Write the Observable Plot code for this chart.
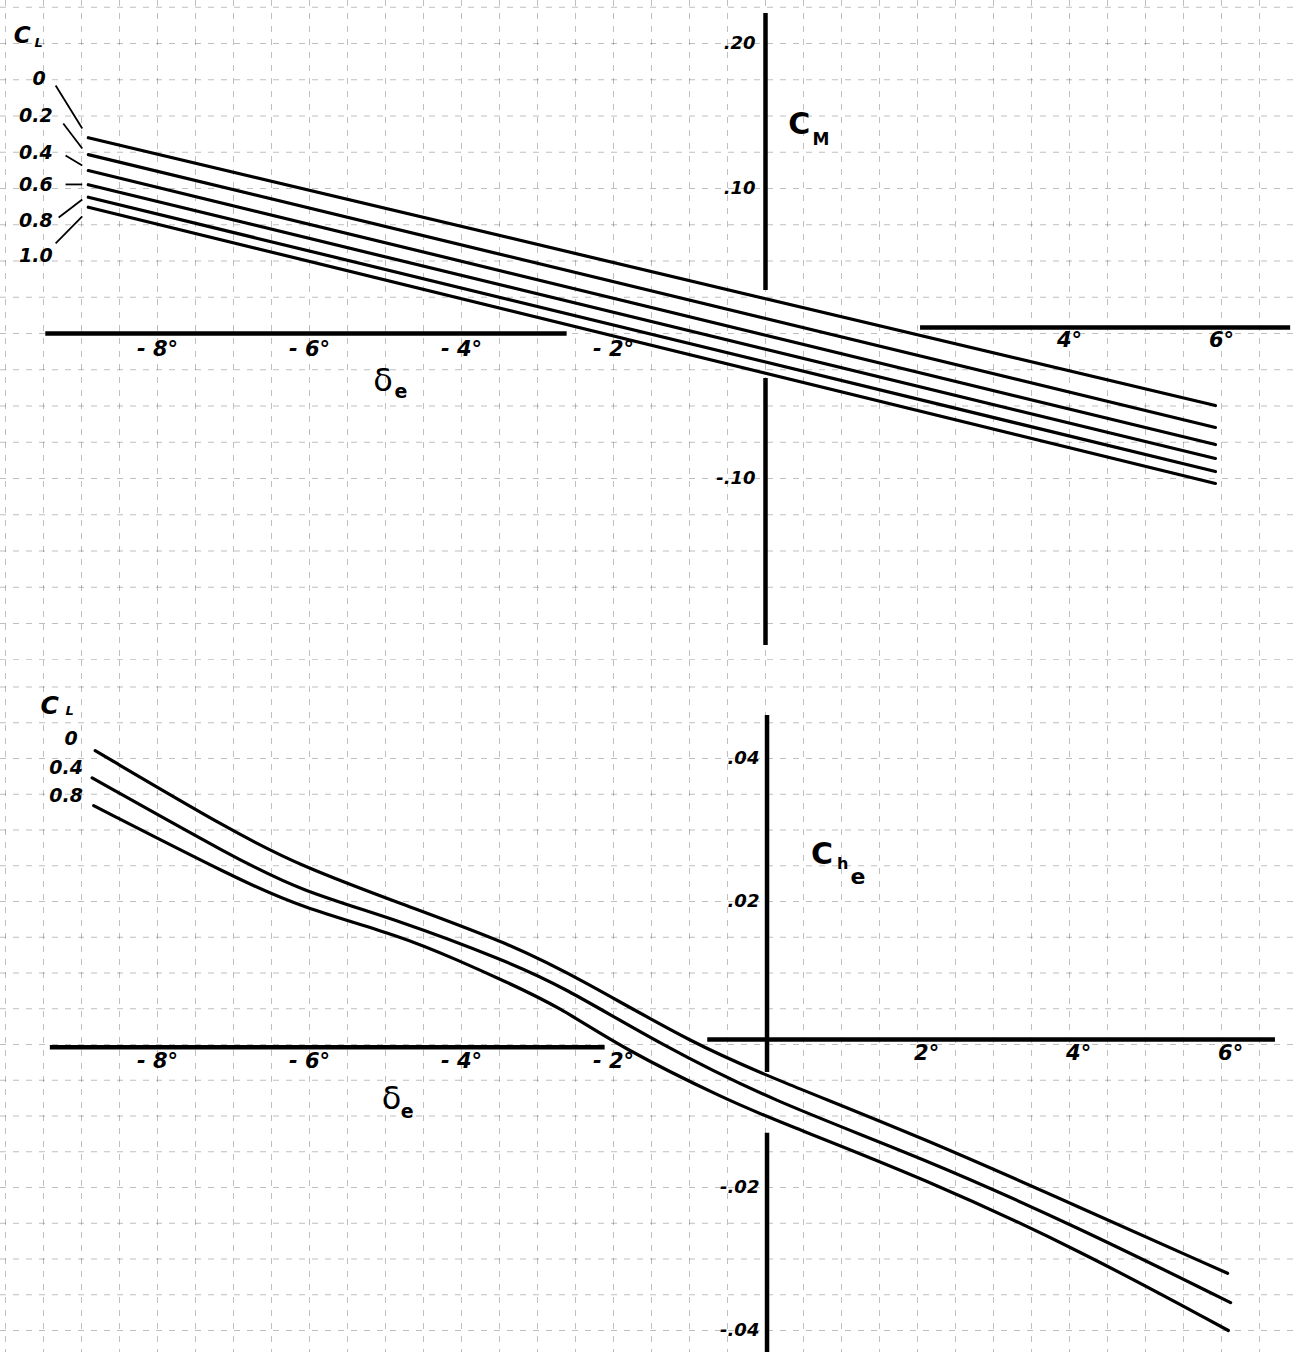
<!DOCTYPE html>
<html><head><meta charset="utf-8">
<script src="https://cdn.jsdelivr.net/npm/d3@7"></script>
<script src="https://cdn.jsdelivr.net/npm/@observablehq/plot@0.6"></script>
<style>
body{margin:0;background:#fff;}
#chart{width:1295px;height:1352px;position:relative;background:#fff;overflow:hidden}
#chart svg{display:block;background:#fff}
</style></head><body><div id="chart"></div>
<script>
// ---------- DATA ----------
// Upper panel: pitching-moment coefficient Cm vs elevator deflection (deg)
const topCL = [0, 0.2, 0.4, 0.6, 0.8, 1.0];
const topDelta = [-8.91, 5.92];
const topCmStart = [0.135, 0.1234, 0.1124, 0.1026, 0.094, 0.0871];
const topCmEnd = [-0.0497, -0.0648, -0.0766, -0.0862, -0.0952, -0.1034];

// Lower panel: hinge-moment coefficient Che vs elevator deflection (deg)
const botCL = [0, 0.4, 0.8];
const cheDelta0  = [-8.82, -7.0, -6.12, -4.80, -3.36, -2.41, -0.95, 0.11, 2.08, 4.14, 6.08];
const cheValue0  = [0.0411, 0.0297, 0.0250, 0.0197, 0.0141, 0.0090, 0.0001, -0.0048, -0.0131, -0.0228, -0.0320];
const cheDelta04 = [-8.86, -7.0, -6.12, -4.80, -3.42, -2.70, -1.38, 0.07, 2.08, 4.14, 6.12];
const cheValue04 = [0.0373, 0.0262, 0.0215, 0.0173, 0.0117, 0.0083, 0.0000, -0.0078, -0.0159, -0.0257, -0.0361];
const cheDelta08 = [-8.84, -7.0, -6.12, -4.80, -4.03, -3.46, -2.70, -1.91, -0.50, 0.20, 2.08, 4.14, 6.09];
const cheValue08 = [0.0334, 0.0234, 0.0192, 0.0152, 0.0117, 0.0090, 0.0052, -0.0004, -0.0078, -0.0109, -0.0187, -0.0288, -0.0400];

// Tick labels
const topXTicksLeft = [-8, -6, -4, -2];
const topXTicksRight = [4, 6];
const botXTicksLeft = [-8, -6, -4, -2];
const botXTicksRight = [2, 4, 6];
const topYTicks = [0.20, 0.10, -0.10];
const topYLabels = [".20", ".10", "-.10"];
const botYTicks = [0.04, 0.02, -0.02, -0.04];
const botYLabels = [".04", ".02", "-.02", "-.04"];
const topCLLabels = ["0", "0.2", "0.4", "0.6", "0.8", "1.0"];
const botCLLabels = ["0", "0.4", "0.8"];

// ---------- LAYOUT / STYLE ----------
const W = 1295;
const xDom = [-765 / 76, 530 / 76];
const topH = 660, botH = 692;
const topYDom = [-(topH - 333) / 1450, 333 / 1450];
const botYDom = [-(botH - 384) / 7150, 384 / 7150];
const font = "DejaVu Sans, Liberation Sans, sans-serif";
const ink = "#000";
const deg = d => d < 0 ? `- ${-d}°` : `${d}°`;
const num = {fontFamily: font, fontWeight: "bold", fontStyle: "italic", fill: ink};
const upright = {fontFamily: font, fontWeight: "bold", fill: ink, textAnchor: "start"};

// legend placement (in data units)
const topLegendY = [0.1759, 0.1503, 0.1248, 0.1028, 0.0779, 0.0538];
const topLegendX = [-9.47, -9.38, -9.38, -9.38, -9.38, -9.38];
const topLeader = [
  [-9.34, 0.1710, -8.99, 0.1414],
  [-9.24, 0.1448, -8.99, 0.1276],
  [-9.21, 0.1228, -8.99, 0.1159],
  [-9.21, 0.1028, -8.99, 0.1028],
  [-9.30, 0.0800, -8.99, 0.0924],
  [-9.34, 0.0621, -8.99, 0.0807]
];
const botLegendY = [0.0427, 0.0387, 0.0348];
const botLegendX = [-9.05, -8.98, -8.98];

const gridX = d3.range(-20, 15).map(i => i * 0.5);
const gridTop = d3.range(-9, 10).map(i => i * 0.025);
const gridBot = d3.range(-9, 12).map(i => i * 0.005);
const gridStyle = {stroke: "#000", strokeOpacity: 0.25, strokeWidth: 1, strokeDasharray: "6,7"};

// ---------- UPPER PANEL ----------
const topRows = topCL.flatMap((cl, i) => [
  {cl, d: topDelta[0], cm: topCmStart[i]},
  {cl, d: topDelta[1], cm: topCmEnd[i]}
]);

const upperPlot = Plot.plot({
  width: W, height: topH, margin: 0,
  x: {domain: xDom, axis: null},
  y: {domain: topYDom, axis: null},
  marks: [
    Plot.ruleX(gridX, gridStyle),
    Plot.ruleY(gridTop, gridStyle),
    // axes
    Plot.ruleY([0], {x1: -9.47, x2: -2.61, stroke: ink, strokeWidth: 4.5}),
    Plot.ruleY([0.0041], {x1: 2.04, x2: 6.91, stroke: ink, strokeWidth: 4.5}),
    Plot.ruleX([0], {y1: 0.2207, y2: 0.0297, stroke: ink, strokeWidth: 4.5}),
    Plot.ruleX([0], {y1: -0.031, y2: -0.2152, stroke: ink, strokeWidth: 4.5}),
    // curves
    Plot.line(topRows, {x: "d", y: "cm", z: "cl", stroke: ink, strokeWidth: 3.2}),
    // legend
    Plot.link(topLeader, {x1: d => d[0], y1: d => d[1], x2: d => d[2], y2: d => d[3], stroke: ink, strokeWidth: 1.8}),
    Plot.text(topCLLabels, {x: (d, i) => topLegendX[i], y: (d, i) => topLegendY[i], text: d => d, textAnchor: "end", fontSize: 19, ...num}),
    Plot.text(["C"], {x: -9.89, y: 0.2055, text: d => d, fontSize: 23, ...num, textAnchor: "start"}),
    Plot.text(["L"], {x: -9.62, y: 0.2005, text: d => d, fontSize: 13, ...num, textAnchor: "start"}),
    // axis titles
    Plot.text(["C"], {x: 0.30, y: 0.1441, text: d => d, fontSize: 30, ...upright}),
    Plot.text(["M"], {x: 0.62, y: 0.1338, text: d => d, fontSize: 17, ...upright}),
    Plot.text(["δ"], {x: -5.16, y: -0.0324, text: d => d, fontFamily: font, fontSize: 32, fill: ink, textAnchor: "start"}),
    Plot.text(["e"], {x: -4.88, y: -0.0400, text: d => d, fontSize: 19, ...upright}),
    // tick labels
    Plot.text(topXTicksLeft, {x: d => d, y: 0, dy: 16, text: deg, fontSize: 21, ...num}),
    Plot.text(topXTicksRight, {x: d => d, y: 0, dy: 7, text: deg, fontSize: 21, ...num}),
    Plot.text(topYTicks, {x: -0.13, y: d => d, text: (d, i) => topYLabels[i], textAnchor: "end", fontSize: 18, ...num})
  ]
});

// ---------- LOWER PANEL ----------
const botRows = [
  ...cheDelta0.map((d, i) => ({cl: botCL[0], d, che: cheValue0[i]})),
  ...cheDelta04.map((d, i) => ({cl: botCL[1], d, che: cheValue04[i]})),
  ...cheDelta08.map((d, i) => ({cl: botCL[2], d, che: cheValue08[i]}))
];

const lowerPlot = Plot.plot({
  width: W, height: botH, margin: 0,
  x: {domain: xDom, axis: null},
  y: {domain: botYDom, axis: null},
  marks: [
    Plot.ruleX(gridX, gridStyle),
    Plot.ruleY(gridBot, gridStyle),
    // axes
    Plot.ruleY([-0.0004], {x1: -9.41, x2: -2.11, stroke: ink, strokeWidth: 4.5}),
    Plot.ruleY([0.0007], {x1: -0.76, x2: 6.71, stroke: ink, strokeWidth: 4.5}),
    Plot.ruleX([0.02], {y1: 0.0460, y2: -0.0039, stroke: ink, strokeWidth: 4.5}),
    Plot.ruleX([0.02], {y1: -0.0124, y2: -0.0431, stroke: ink, strokeWidth: 4.5}),
    // curves
    Plot.line(botRows, {x: "d", y: "che", z: "cl", stroke: ink, strokeWidth: 3.2, curve: "basis"}),
    // legend
    Plot.text(botCLLabels, {x: (d, i) => botLegendX[i], y: (d, i) => botLegendY[i], text: d => d, textAnchor: "end", fontSize: 19, ...num}),
    Plot.text(["C"], {x: -9.54, y: 0.0474, text: d => d, fontSize: 25, ...num, textAnchor: "start"}),
    Plot.text(["L"], {x: -9.21, y: 0.0466, text: d => d, fontSize: 13, ...num, textAnchor: "start"}),
    // axis titles
    Plot.text(["C"], {x: 0.60, y: 0.0266, text: d => d, fontSize: 30, ...upright}),
    Plot.text(["h"], {x: 0.94, y: 0.0252, text: d => d, fontSize: 16, ...upright}),
    Plot.text(["e"], {x: 1.12, y: 0.0234, text: d => d, fontSize: 22, ...upright}),
    Plot.text(["δ"], {x: -5.05, y: -0.0076, text: d => d, fontFamily: font, fontSize: 32, fill: ink, textAnchor: "start"}),
    Plot.text(["e"], {x: -4.80, y: -0.0094, text: d => d, fontSize: 19, ...upright}),
    // tick labels
    Plot.text(botXTicksLeft, {x: d => d, y: 0, dy: 17, text: deg, fontSize: 21, ...num}),
    Plot.text(botXTicksRight, {x: d => d + 0.12, y: 0, dy: 9, text: deg, fontSize: 21, ...num}),
    Plot.text(botYTicks, {x: -0.08, y: d => d, text: (d, i) => botYLabels[i], textAnchor: "end", fontSize: 18, ...num})
  ]
});

const host = document.getElementById("chart");
host.appendChild(upperPlot);
host.appendChild(lowerPlot);
</script></body></html>
